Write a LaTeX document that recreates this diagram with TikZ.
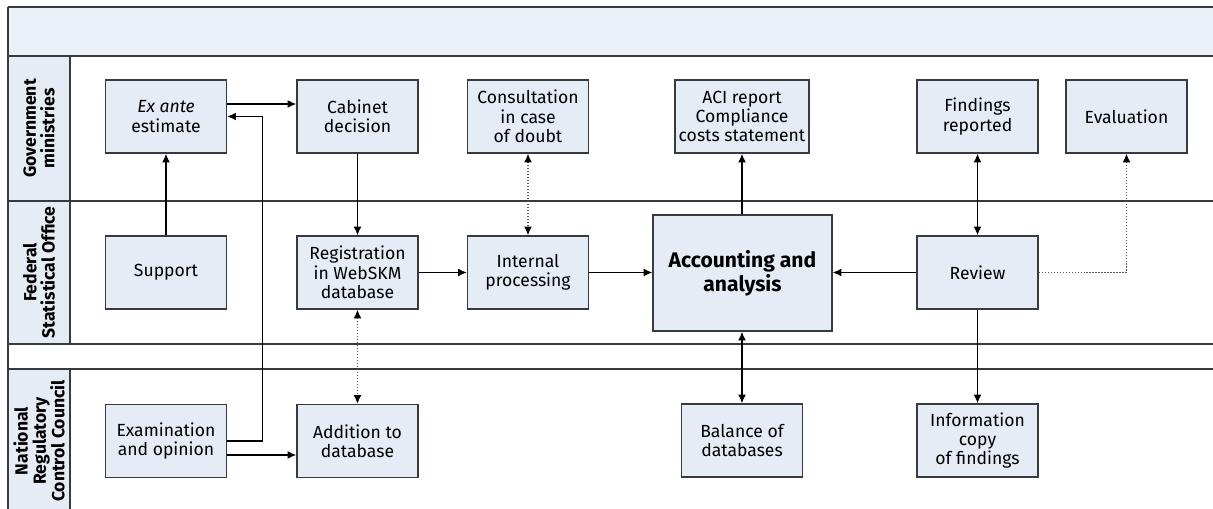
\documentclass[tikz,border=0pt]{standalone}
\usepackage{fontspec}
\setmainfont{Fira Sans}
\usepackage{xcolor}
\usepackage{tikz}
\usetikzlibrary{arrows.meta, positioning}

\definecolor{boxfill}{RGB}{230,236,246}
\definecolor{headfill}{RGB}{236,241,248}
\definecolor{laneline}{RGB}{55,58,62}

\begin{document}
\begin{tikzpicture}[
  x=0.02cm, y=-0.02cm,
  font=\fontsize{10}{11}\selectfont,
  box/.style={
    draw=laneline,
    fill=boxfill,
    line width=0.8pt,
    align=center,
    inner sep=2pt,
    minimum width=2.42cm,
    minimum height=1.46cm
  },
  corebox/.style={
    box,
    font=\fontsize{12}{13.5}\selectfont\bfseries,
    minimum width=3.58cm,
    minimum height=2.32cm
  },
  lane/.style={
    draw=laneline,
    line width=0.85pt
  },
  lanelabel/.style={
    rotate=90,
    font=\fontsize{10}{10.5}\selectfont\bfseries,
    align=center
  },
  arrow/.style={
    draw=black,
    -{Latex[length=5pt,width=4.5pt,color=black]},
    line width=0.7pt
  },
  twoway/.style={
    arrow,
    {Latex[length=5pt,width=4.5pt,color=black]}-{Latex[length=5pt,width=4.5pt,color=black]}
  },
  dotline/.style={
    densely dotted,
    draw=black!65
  }
]
\useasboundingbox (0,0) rectangle (1213,509);

% Header band and lane label column
\fill[headfill] (8,7) rectangle (1213,56);
\fill[boxfill] (8,56) rectangle (70,344);
\fill[boxfill] (8,369) rectangle (70,509);

% Lane borders
\foreach \y in {7,56,201,344,369}
  \draw[lane] (8,\y) -- (1213,\y);
\draw[lane] (8,7) -- (8,509);
\draw[lane] (70,56) -- (70,344);
\draw[lane] (70,369) -- (70,509);

% Lane labels
\node[lanelabel] (govlane) at (39,128.5) {Government\\ministries};
\node[lanelabel] (fedlane) at (39,272.5) {Federal\\Statistical Office};
\node[lanelabel] (nrclane) at (39,441) {National\\Regulatory\\Control Council};

% Government ministries
\node[box] (exante) at (166,116.5) {\textit{Ex ante}\\estimate};
\node[box] (cabinet) at (357.5,116.5) {Cabinet\\decision};
\node[box] (consult) at (528,116.5) {Consultation\\in case\\of doubt};
\node[box] (aci) at (742,116.5) {ACI report\\Compliance\\costs statement};
\node[box] (findings) at (977.5,116.5) {Findings\\reported};
\node[box] (evaluation) at (1126.5,116.5) {Evaluation};

% Federal Statistical Office
\node[box] (support) at (166,272.5) {Support};
\node[box] (registration) at (357.5,272.5) {Registration\\in WebSKM\\database};
\node[box] (internal) at (528,272.5) {Internal\\processing};
\node[corebox] (accounting) at (742.5,273) {Accounting and\\analysis};
\node[box] (review) at (977.5,272.5) {Review};

% National Regulatory Control Council
\node[box] (exam) at (166,441) {Examination\\and opinion};
\node[box] (addition) at (357.5,441) {Addition to\\database};
\node[box] (balance) at (742,440.5) {Balance of\\databases};
\node[box] (info) at (977.5,440.5) {Information\\copy\\of findings};

% Arrows
\draw[arrow] (support.north) -- (exante.south);
\draw[arrow] ([yshift=0.25cm]exante.east) -- ([yshift=0.25cm]cabinet.west);
\draw[arrow] (exam.east) -- ++(35,0) |- (exante.east);
\draw[arrow] ([yshift=-0.28cm]exam.east) -- ([yshift=-0.28cm]addition.west);
\draw[arrow] (cabinet.south) -- (registration.north);
\draw[twoway, dotline] (registration.south) -- (addition.north);
\draw[arrow] (registration.east) -- (internal.west);
\draw[twoway, dotline] (consult.south) -- (internal.north);
\draw[arrow] (internal.east) -- (internal.east -| accounting.west);
\draw[arrow] (accounting.north -| aci.south) -- (aci.south);
\draw[twoway] (accounting.south -| balance.north) -- (balance.north);
\draw[arrow] (review.west) -- (review.west -| accounting.east);
\draw[twoway] (findings.south) -- (review.north);
\draw[arrow] (review.south) -- (info.north);
\draw[arrow, dotline] (review.east) -| (evaluation.south);

\end{tikzpicture}
\end{document}
